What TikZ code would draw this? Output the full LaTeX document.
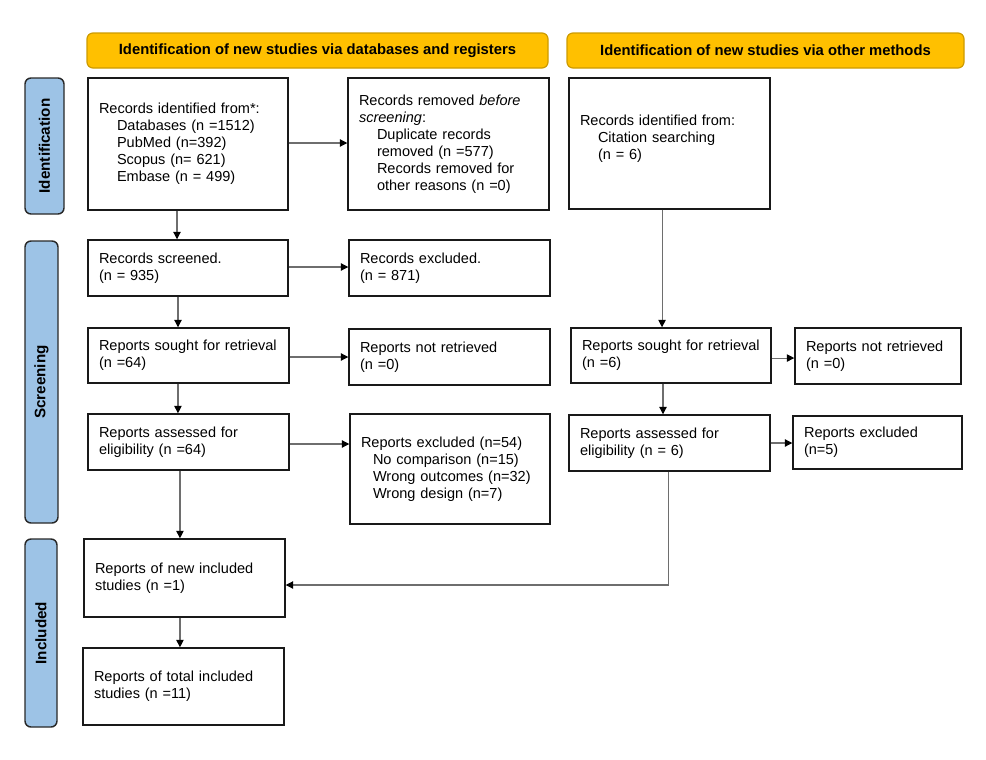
\documentclass[tikz,border=0pt]{standalone}
\usepackage{fontspec}
\setmainfont{Liberation Sans}
\usetikzlibrary{arrows.meta,calc}
\definecolor{hdrfill}{RGB}{255,192,0}
\definecolor{hdrdraw}{RGB}{205,155,0}
\definecolor{barfill}{RGB}{157,195,230}
\definecolor{bardraw}{RGB}{40,40,40}
\definecolor{linegray}{RGB}{110,110,110}
\definecolor{boxdraw}{RGB}{25,25,25}
\newcommand\myind{\hspace*{13.5pt}}
\newcommand\myindb{\hspace*{9pt}}
\begin{document}
\begin{tikzpicture}[x=0.75pt,y=-0.75pt,
  every node/.style={font=\fontsize{10.9}{12.7}\selectfont},
  sz/.style 2 args={minimum width=#1*0.75pt, minimum height=#2*0.75pt},
  wh/.code 2 args={\pgfmathsetlengthmacro\boxtw{(#1-22)*0.75pt}\pgfkeysalso{minimum width=#1*0.75pt, minimum height=#2*0.75pt, text width=\boxtw}},
  box/.style={draw=boxdraw, line width=1.1pt, rectangle, inner xsep=8.25pt, inner ysep=0pt, align=left, fill=white},
  hdr/.style={draw=hdrdraw, fill=hdrfill, line width=0.9pt, rounded corners=4.5pt, inner sep=0pt, font=\fontsize{11.1}{13}\selectfont\bfseries},
  sidebar/.style={draw=bardraw, fill=barfill, line width=1.1pt, rounded corners=4.5pt, inner sep=0pt, rotate=90, font=\fontsize{11.4}{13}\selectfont\bfseries},
  conn/.style={draw=linegray, line width=0.8pt, -{Triangle[length=5.5pt,width=5.5pt,color=black]}},
]
\useasboundingbox (0,0) rectangle (986,760);

% headers
\node[hdr, sz={461}{35}] (h1) at (317.5,50.5) {Identification of new studies via databases and registers};
\node[hdr, sz={397}{35}] (h2) at (765.5,50.5) {Identification of new studies via other methods};

% side bars
\node[sidebar, sz={136}{39}] (sb1) at (44.5,146) {Identification};
\node[sidebar, sz={282}{33}] (sb2) at (41.5,382) {Screening};
\node[sidebar, sz={188}{32}] (sb3) at (41,633) {Included};

% boxes
\node[box, wh={200}{132}] (A) at (188,144) {Records identified from*:\\ \myind Databases (n =1512)\\ \myind PubMed (n=392)\\ \myind Scopus (n= 621)\\ \myind Embase (n = 499)};
\node[box, wh={201}{132}] (B) at (448.5,144) {Records removed \textit{before}\\ \textit{screening}:\\ \myind Duplicate records\\ \myind removed (n =577)\\ \myind Records removed for\\ \myind other reasons (n =0)};
\node[box, wh={201}{131}] (C) at (669.5,143.5) {Records identified from:\\ \myind Citation searching\\ \myind (n = 6)\\[-3.7pt]\mbox{}};
\node[box, wh={200}{56}] (D) at (188,268) {Records screened.\\(n = 935)};
\node[box, wh={201}{56}] (E) at (449.5,268) {Records excluded.\\(n = 871)};
\node[box, wh={201}{55}] (F) at (188.5,355.5) {Reports sought for retrieval\\(n =64)};
\node[box, wh={201}{56}] (G) at (449.5,357) {Reports not retrieved\\(n =0)};
\node[box, wh={201}{56}] (H) at (188.5,442) {Reports assessed for\\eligibility (n =64)};
\node[box, wh={200}{110}] (I) at (450,469) {Reports excluded (n=54)\\ \myindb No comparison (n=15)\\ \myindb Wrong outcomes (n=32)\\ \myindb Wrong design (n=7)};
\node[box, wh={200}{55}] (J) at (671,355.5) {Reports sought for retrieval\\(n =6)};
\node[box, wh={166}{56}] (K) at (878,356) {Reports not retrieved\\(n =0)};
\node[box, wh={201}{56}] (L) at (669.5,443) {Reports assessed for\\eligibility (n = 6)};
\node[box, wh={169}{53}] (M) at (877.5,442.5) {Reports excluded\\(n=5)};
\node[box, wh={201}{78}] (N) at (184.5,578) {Reports of new included\\studies (n =1)};
\node[box, wh={201}{77}] (O) at (183.5,686.5) {Reports of total included\\studies (n =11)};

% helper coordinates for vertical connectors
\coordinate (a1) at ([xshift=-8.25pt]A.south);
\coordinate (d1) at ([xshift=-7.5pt]D.south);
\coordinate (f1) at ([xshift=-7.9pt]F.south);
\coordinate (hh1) at ([xshift=-6.4pt]H.south);
\coordinate (n1) at ([xshift=-3.4pt]N.south);
\coordinate (c1) at ([xshift=-5.6pt]C.south);
\coordinate (j1) at ([xshift=-6pt]J.south);
\coordinate (l1) at ([xshift=-1.1pt]L.south);

% connectors
\draw[conn] (a1) -- (a1 |- D.north);
\draw[conn] (d1) -- (d1 |- F.north);
\draw[conn] (f1) -- (f1 |- H.north);
\draw[conn] (hh1) -- (hh1 |- N.north);
\draw[conn] (n1) -- (n1 |- O.north);
\draw[conn] (c1) -- (c1 |- J.north);
\draw[conn] (j1) -- (j1 |- L.north);
\draw[conn] (l1) |- ([yshift=-5.25pt]N.east);

\draw[conn] ([yshift=0.75pt]A.east) -- ([yshift=0.75pt]A.east -| B.west);
\draw[conn] ([yshift=0.75pt]D.east) -- ([yshift=0.75pt]D.east -| E.west);
\draw[conn] (G.west -| F.east) -- (G.west);
\draw[conn] ([yshift=-1.5pt]H.east) -- ([yshift=-1.5pt]H.east -| I.west);
\draw[conn] ([yshift=-1.9pt]J.east) -- ([yshift=-1.9pt]J.east -| K.west);
\draw[conn] (L.east) -- (L.east -| M.west);
\end{tikzpicture}
\end{document}
